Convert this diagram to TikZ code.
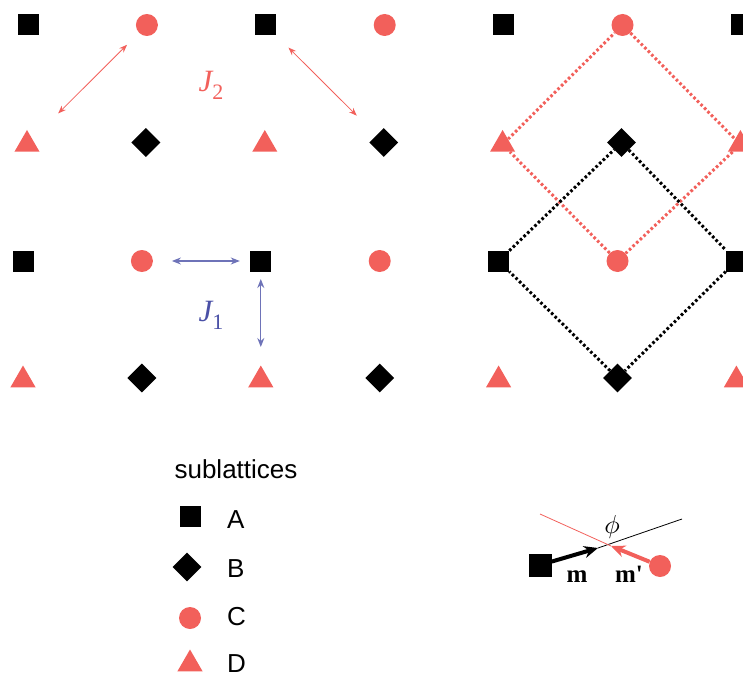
\documentclass[tikz,border=0pt]{standalone}
\usepackage{fontspec}
\setmainfont{Liberation Serif}
\setsansfont{Liberation Sans}
\usetikzlibrary{arrows.meta,shapes.geometric}

\definecolor{latred}{HTML}{F2605B}
\definecolor{latblue}{HTML}{4A50A6}

\tikzset{
  subA/.style={rectangle,fill=black,inner sep=0pt,minimum size=21pt},
  subB/.style={diamond,fill=black,inner sep=0pt,minimum size=29pt},
  subC/.style={circle,fill=latred,inner sep=0pt,minimum size=22pt},
  subD/.style={regular polygon,regular polygon sides=3,fill=latred,inner sep=0pt,minimum size=29pt,yshift=-2pt},
  bonddot/.style={line width=3pt,dash pattern=on 2.6pt off 2.4pt},
  jtwo/.style={latred,line width=0.8pt,{Stealth[length=8pt,width=6pt]}-{Stealth[length=8pt,width=6pt]}},
  jone/.style={latblue!80,line width=1.3pt,{Stealth[length=9pt,width=7pt]}-{Stealth[length=9pt,width=7pt]}},
  spinarr/.style={line width=4pt,-{Stealth[length=14pt,width=12pt]}},
  legtext/.style={font=\sffamily\fontsize{26}{26}\selectfont,inner sep=0pt}
}
\newcommand{\jlabel}[1]{{\fontsize{31}{31}\selectfont\itshape J}\raisebox{-8pt}{\fontsize{22}{22}\selectfont #1}}

\begin{document}
\begin{tikzpicture}[x=1pt,y=-1pt]
\useasboundingbox (0,0) rectangle (743,676);
\clip (0,0) rectangle (743,676);

% Lattice sites
\foreach \r/\y/\dx/\sa/\sb in {1/25/0/subA/subC,2/142.5/-1/subD/subB,3/261/-5/subA/subC,4/378/-5/subD/subB}{
  \foreach \c in {0,2,4,6}
    \node[\sa] (s\r\c) at (28+118.9*\c+\dx,\y) {};
  \foreach \c in {1,3,5}
    \node[\sb] (s\r\c) at (28+118.9*\c+\dx,\y) {};
}

% Exchange couplings
\draw[jtwo,shorten <=44pt,shorten >=28pt] (s20.center) -- (s11.center);
\draw[jtwo,shorten <=32pt,shorten >=38pt] (s12.center) -- (s23.center);
\draw[jone,shorten <=30pt,shorten >=21pt] (s31.center) -- (s32.center);
\draw[jone,shorten <=18pt,shorten >=33pt] (s32.center) -- (s42.center);
\node[latred,anchor=base] (jtwoLbl) at (211,92) {\jlabel{2}};
\node[latblue,anchor=base] (joneLbl) at (211,321) {\jlabel{1}};

% Plaquettes
\draw[bonddot,latred] (s15) -- (s26) -- (s35) -- (s24) -- (s15);
\draw[bonddot] (s25) -- (s36) -- (s45) -- (s34) -- (s25);

% Legend
\node[legtext,anchor=base] (legTitle) at (236,478) {sublattices};
\node[subA] (legA) at (190,516) {};
\node[subB] (legB) at (187,567) {};
\node[subC] (legC) at (190,618) {};
\node[subD] (legD) at (190,662) {};
\foreach \n/\y in {A/528,B/577,C/625,D/672}
  \node[legtext,anchor=base west] (lbl\n) at (227,\y) {\n};

% Canting angle
\node[subA,minimum size=23pt] (vecA) at (540,565) {};
\node[subC] (vecC) at (660,566) {};
\coordinate (mTip) at (598,548);
\coordinate (mpTip) at (611,546);
\coordinate (mEnd) at (682,519);
\coordinate (mpEnd) at (540,514);
\draw[line width=0.8pt] (mTip) -- (mEnd);
\draw[latred,line width=0.8pt] (mpTip) -- (mpEnd);
\draw[spinarr] (vecA) -- (mTip);
\draw[spinarr,latred] (vecC) -- (mpTip);
\node (phiLbl) at (612,527) {\scalebox{2.6}{$\phi$}};
\node[anchor=base] (mLbl) at (577,582) {\fontsize{25}{25}\selectfont\bfseries m};
\node[anchor=base] (mpLbl) at (629,582) {\fontsize{25}{25}\selectfont\bfseries m\textquotesingle};
\end{tikzpicture}
\end{document}
